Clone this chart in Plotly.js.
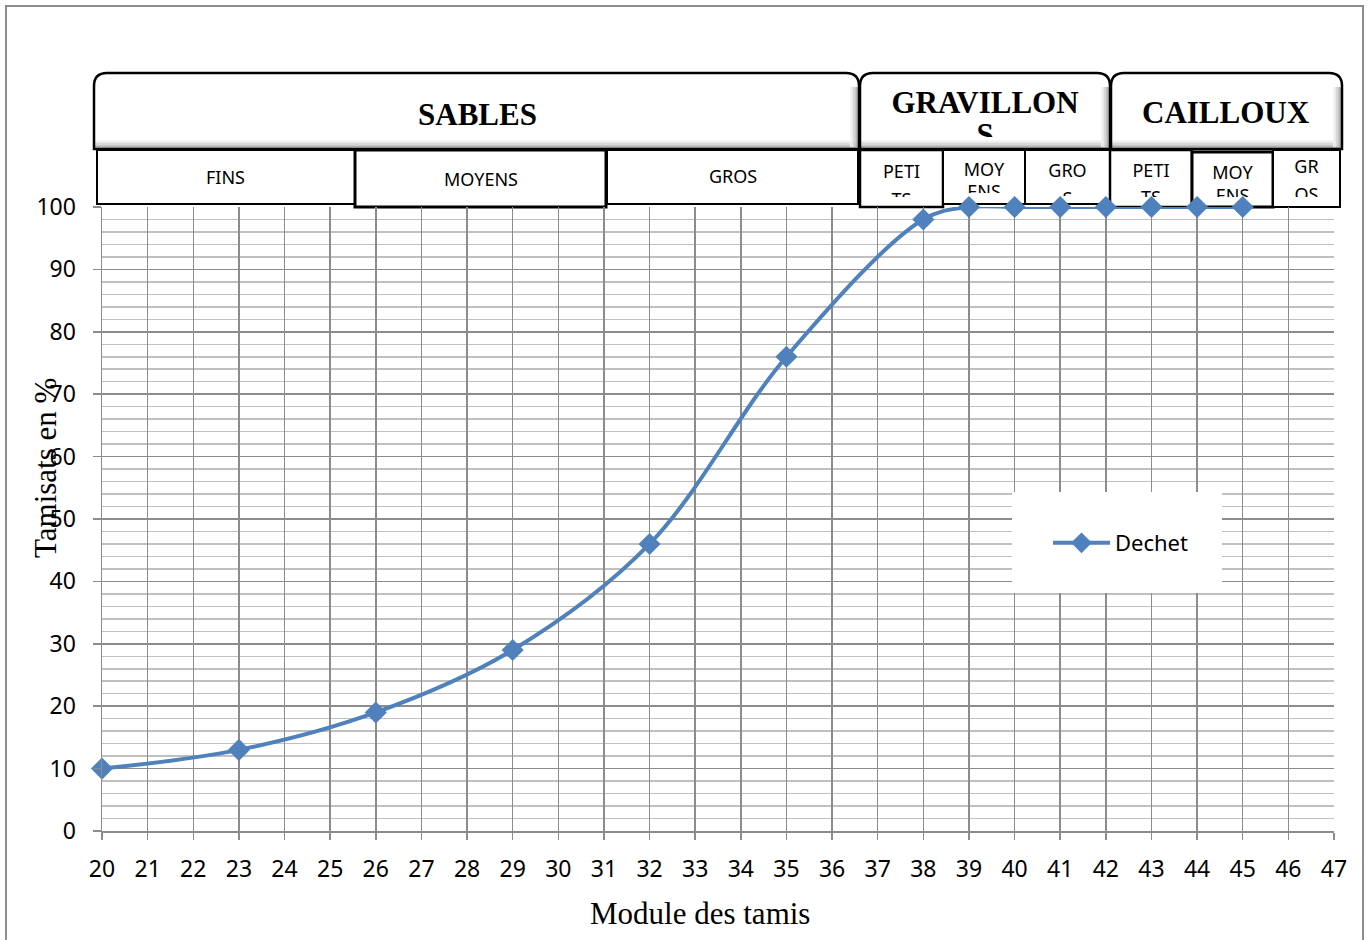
<!DOCTYPE html>
<html>
<head>
<meta charset="utf-8">
<script src="https://cdn.plot.ly/plotly-3.0.1.min.js"></script>
<style>html,body{margin:0;padding:0;background:#fff;}#chart{width:1370px;height:940px;}</style>
</head>
<body>
<div id="chart"></div>
<script>
// ---- data ----
const moduleTamis = [20, 23, 26, 29, 32, 35, 38, 39, 40, 41, 42, 43, 44, 45];
const dechet = [10, 13, 19, 29, 46, 76, 98, 100, 100, 100, 100, 100, 100, 100];
const seriesName = "Dechet";
const xTitle = "Module des tamis";
const yTitle = "Tamisats en %";
const groupLabels = ["SABLES", "GRAVILLONS", "CAILLOUX"];
const subLabels = ["FINS", "MOYENS", "GROS", "PETITS", "MOYENS", "GROS", "PETITS", "MOYENS", "GROS"];

// ---- layout helpers (pixel -> paper) ----
const W = 1370, H = 940;
const X = px => px / W;
const Y = py => 1 - py / H;

const blue = "#4F81BD";
const gridDark = "#8c8c8c";
const gridLight = "#c0c0c0";
const tickFont = {family: "Noto Sans, sans-serif", size: 23, color: "#000"};

const shapes = [];
const annotations = [];
const traces = [];

// outer frame
shapes.push({type: "rect", xref: "paper", yref: "paper", x0: X(6), x1: X(1363), y0: Y(6), y1: Y(960),
  line: {color: "#8c8c8c", width: 2}, fillcolor: "rgba(0,0,0,0)", layer: "below"});

// big group boxes with rounded tops and bevel
const bigBoxes = [
  {x0: 94, x1: 859, y0: 73, y1: 149},
  {x0: 860, x1: 1110, y0: 73, y1: 149},
  {x0: 1111, x1: 1342, y0: 73, y1: 149}
];
function roundTopPath(b, r) {
  return `M${X(b.x0)},${Y(b.y1)} L${X(b.x0)},${Y(b.y0 + r)} Q${X(b.x0)},${Y(b.y0)} ${X(b.x0 + r)},${Y(b.y0)} ` +
    `L${X(b.x1 - r)},${Y(b.y0)} Q${X(b.x1)},${Y(b.y0)} ${X(b.x1)},${Y(b.y0 + r)} L${X(b.x1)},${Y(b.y1)} Z`;
}
const bevel = ["#f4f4f4", "#e8e8e8", "#d8d8d8", "#c6c6c6", "#b2b2b2", "#9c9c9c"];
bigBoxes.forEach(b => {
  shapes.push({type: "path", xref: "paper", yref: "paper", path: roundTopPath(b, 13),
    fillcolor: "#ffffff", line: {width: 0}, layer: "below"});
  bevel.forEach((c, i) => {
    shapes.push({type: "rect", xref: "paper", yref: "paper",
      x0: X(b.x0 + 1), x1: X(b.x1 - 1), y0: Y(b.y1 - 9 + i * 1.5 + 1.5), y1: Y(b.y1 - 9 + i * 1.5),
      fillcolor: c, line: {width: 0}, layer: "below"});
  });
  bevel.forEach((c, i) => {
    shapes.push({type: "rect", xref: "paper", yref: "paper",
      x0: X(b.x1 - 9 + i * 1.5), x1: X(b.x1 - 9 + i * 1.5 + 1.5), y0: Y(b.y1 - 2), y1: Y(b.y0 + 14),
      fillcolor: c, line: {width: 0}, layer: "below"});
  });
  shapes.push({type: "path", xref: "paper", yref: "paper", path: roundTopPath(b, 13),
    fillcolor: "rgba(0,0,0,0)", line: {color: "#000", width: 2.5}, layer: "below"});
});

// group titles
const groupText = [
  {x: 477, y: 114},
  {x: 984, y: 105, second: 137, clipTop: 76, clipBottom: 137},
  {x: 1226, y: 113}
];
const serifBold = {family: "Liberation Serif, Times New Roman, serif", size: 31, color: "#000", weight: "bold"};

// sub boxes
const subBoxes = [
  {x0: 97, x1: 355, y0: 150, y1: 204, w: 2},
  {x0: 355, x1: 606, y0: 150, y1: 207, w: 3},
  {x0: 607, x1: 858, y0: 150, y1: 204, w: 2},
  {x0: 860, x1: 943, y0: 150, y1: 207, w: 2.5},
  {x0: 943, x1: 1025, y0: 150, y1: 204, w: 2},
  {x0: 1025, x1: 1110, y0: 150, y1: 204, w: 2},
  {x0: 1110, x1: 1192, y0: 150, y1: 207, w: 2.5},
  {x0: 1192, x1: 1273, y0: 152, y1: 207, w: 3},
  {x0: 1273, x1: 1340, y0: 150, y1: 207, w: 2}
];
subBoxes.forEach(b => {
  shapes.push({type: "rect", xref: "paper", yref: "paper", x0: X(b.x0), x1: X(b.x1), y0: Y(b.y1), y1: Y(b.y0),
    fillcolor: "#ffffff", line: {color: "#000", width: b.w}, layer: "below"});
});
const subText = [
  {y: 177}, {y: 179}, {y: 176},
  {split: 4, y1: 173, y2: 201, clip: 197},
  {split: 3, y1: 171, y2: 193, clip: 193},
  {split: 3, y1: 172, y2: 200, clip: 196},
  {split: 4, y1: 172, y2: 199, clip: 197},
  {split: 3, y1: 174, y2: 197, clip: 197},
  {split: 2, y1: 168, y2: 196, clip: 197}
];
const subFont = {family: "Noto Sans, sans-serif", size: 18, color: "#000"};

let axN = 2;
const extraAxes = {};
function clippedText(x0, x1, yTop, yBot, lines, font) {
  const n = axN++;
  extraAxes["xaxis" + n] = {domain: [X(x0), X(x1)], range: [x0, x1], visible: false, fixedrange: true, anchor: "y" + n};
  extraAxes["yaxis" + n] = {domain: [Y(yBot), Y(yTop)], range: [yBot, yTop], visible: false, fixedrange: true, anchor: "x" + n};
  traces.push({
    type: "scatter", mode: "text", xaxis: "x" + n, yaxis: "y" + n,
    x: lines.map(() => (x0 + x1) / 2), y: lines.map(l => l[1]), text: lines.map(l => l[0]),
    textposition: "middle center", textfont: font, cliponaxis: true,
    showlegend: false, hoverinfo: "skip"
  });
}

groupLabels.forEach((lab, i) => {
  const g = groupText[i];
  if (g.second) {
    const cut = lab.length - 1;
    clippedText(bigBoxes[i].x0 + 3, bigBoxes[i].x1 - 3, g.clipTop, g.clipBottom,
      [[lab.slice(0, cut), g.y], [lab.slice(cut), g.second]], serifBold);
  } else {
    annotations.push({xref: "paper", yref: "paper", x: X(g.x), y: Y(g.y), text: lab,
      showarrow: false, xanchor: "center", yanchor: "middle", font: serifBold});
  }
});

subLabels.forEach((lab, i) => {
  const b = subBoxes[i], t = subText[i];
  if (t.split) {
    clippedText(b.x0 + 2, b.x1 - 2, b.y0 + 2, t.clip,
      [[lab.slice(0, t.split), t.y1], [lab.slice(t.split), t.y2]], subFont);
  } else {
    annotations.push({xref: "paper", yref: "paper", x: X((b.x0 + b.x1) / 2), y: Y(t.y), text: lab,
      showarrow: false, xanchor: "center", yanchor: "middle", font: subFont});
  }
});

// legend white background
shapes.push({type: "rect", xref: "paper", yref: "paper", x0: X(1012), x1: X(1222), y0: Y(593), y1: Y(492),
  fillcolor: "#ffffff", line: {width: 0}, layer: "above"});

// axis titles
const serif = {family: "Liberation Serif, Times New Roman, serif", size: 31, color: "#000"};
annotations.push({xref: "paper", yref: "paper", x: X(700), y: Y(913), text: xTitle, showarrow: false,
  xanchor: "center", yanchor: "middle", font: serif});
annotations.push({xref: "paper", yref: "paper", x: X(46), y: Y(468), text: yTitle, showarrow: false,
  textangle: -90, xanchor: "center", yanchor: "middle", font: serif});

// main series
traces.unshift({
  type: "scatter", mode: "lines+markers", name: seriesName,
  x: moduleTamis, y: dechet,
  line: {color: blue, width: 4, shape: "spline", smoothing: 1},
  marker: {symbol: "diamond", size: 17, color: blue},
  cliponaxis: false, xaxis: "x", yaxis: "y"
});

const layout = Object.assign({
  width: W, height: H,
  margin: {l: 0, r: 0, t: 0, b: 0},
  paper_bgcolor: "#ffffff",
  plot_bgcolor: "rgba(0,0,0,0)",
  showlegend: true,
  legend: {x: X(1048), y: Y(543), xanchor: "left", yanchor: "middle", bgcolor: "rgba(0,0,0,0)",
    font: {family: "Noto Sans, sans-serif", size: 22, color: "#000"}, itemwidth: 57},
  xaxis: {
    domain: [X(102), X(1334)], range: [20, 47], tick0: 20, dtick: 1, anchor: "y",
    showgrid: true, gridcolor: gridDark, gridwidth: 1.5,
    ticks: "outside", ticklen: 7, tickwidth: 1.5, tickcolor: gridDark,
    showline: true, linecolor: gridDark, linewidth: 1.5, zeroline: false,
    tickfont: tickFont, ticklabelstandoff: 10, fixedrange: true
  },
  yaxis: {
    domain: [Y(831), Y(207)], range: [0, 100], tick0: 0, dtick: 10, anchor: "x",
    showgrid: true, gridcolor: gridDark, gridwidth: 1.5,
    minor: {dtick: 2, showgrid: true, gridcolor: gridLight, gridwidth: 1.5},
    ticks: "outside", ticklen: 8, tickwidth: 1.5, tickcolor: gridDark,
    showline: true, linecolor: gridDark, linewidth: 1.5, zeroline: false,
    tickfont: tickFont, ticklabelstandoff: 12, fixedrange: true
  },
  shapes: shapes,
  annotations: annotations
}, extraAxes);

Plotly.newPlot("chart", traces, layout, {displayModeBar: false, staticPlot: true});
</script>
</body>
</html>
